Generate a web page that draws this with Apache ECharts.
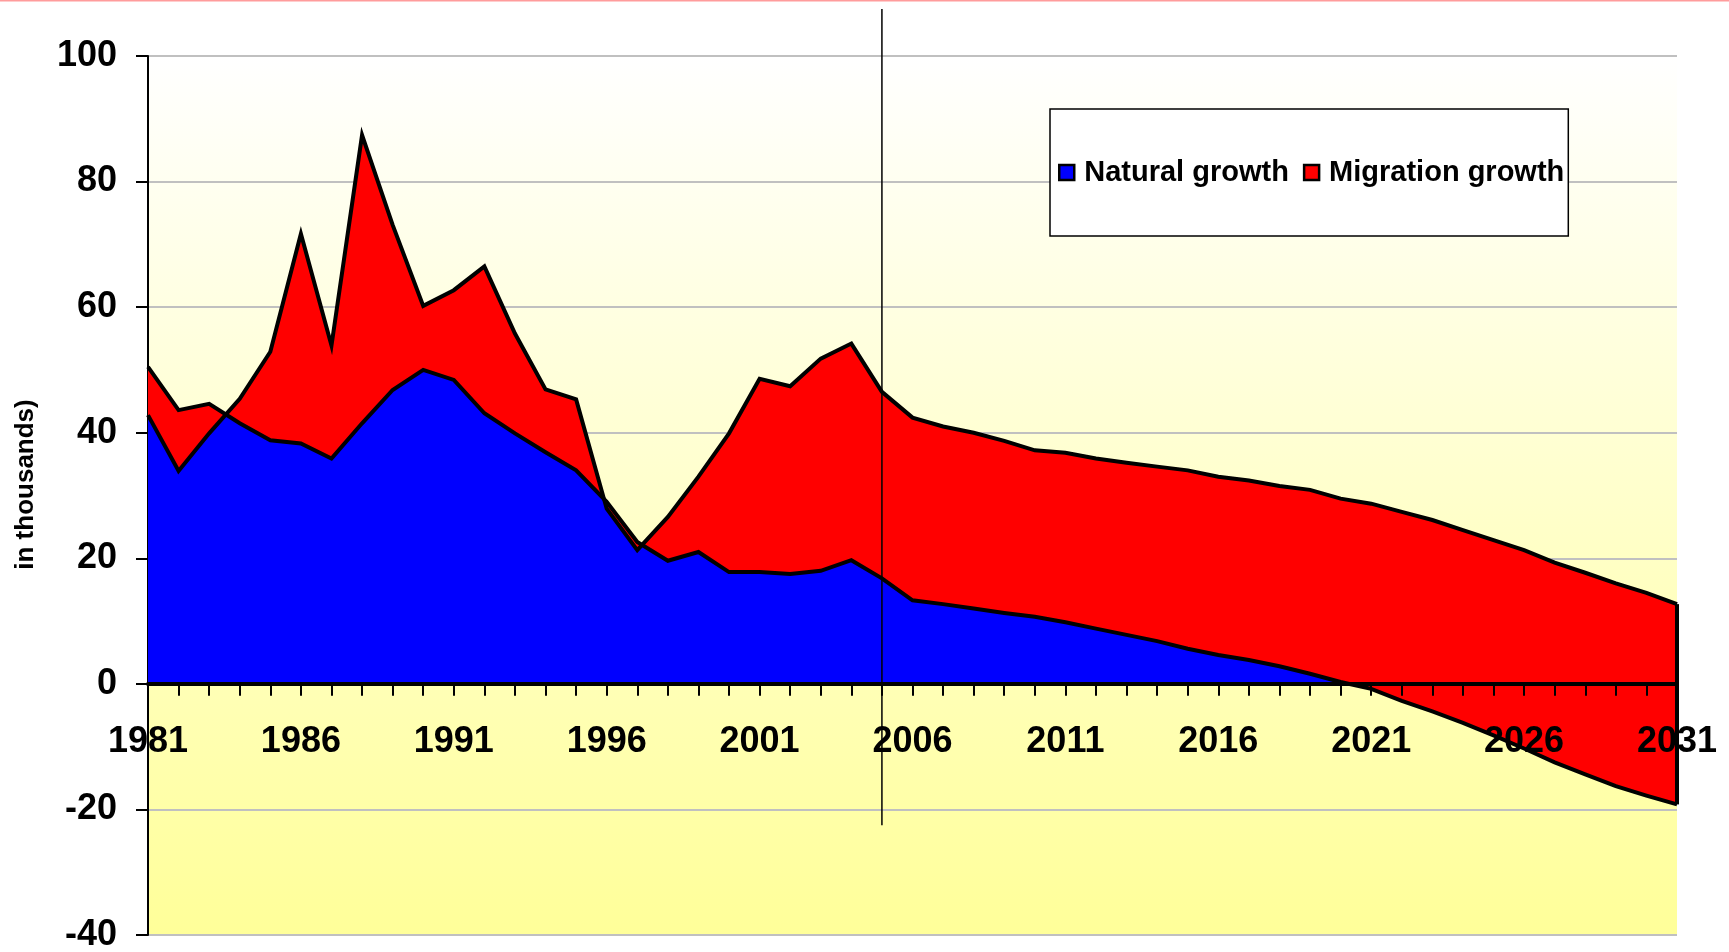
<!DOCTYPE html>
<html><head><meta charset="utf-8">
<script src="https://cdn.jsdelivr.net/npm/echarts@6/dist/echarts.min.js"></script>
<style>html,body{margin:0;padding:0;background:#fff}#c{width:1729px;height:952px}</style>
</head><body><div id="c"></div>
<script>
const years = ['1981','1982','1983','1984','1985','1986','1987','1988','1989','1990',
  '1991','1992','1993','1994','1995','1996','1997','1998','1999','2000',
  '2001','2002','2003','2004','2005','2006','2007','2008','2009','2010',
  '2011','2012','2013','2014','2015','2016','2017','2018','2019','2020',
  '2021','2022','2023','2024','2025','2026','2027','2028','2029','2030','2031'];
const natural = [50.5,43.6,44.6,41.5,38.8,38.3,35.9,41.5,46.8,50.0,
  48.4,43.1,39.9,36.9,34.0,29.0,22.6,19.6,21.0,17.8,
  17.8,17.5,18.0,19.7,16.8,13.3,12.7,12.0,11.3,10.7,
  9.8,8.8,7.8,6.8,5.6,4.6,3.8,2.8,1.6,0.3,
  -0.8,-2.7,-4.4,-6.2,-8.2,-10.3,-12.5,-14.4,-16.3,-17.8,-19.2];
const migration = [-7.7,-9.7,-4.7,3.9,14.1,33.4,18.0,45.9,26.3,10.2,
  14.3,23.4,15.9,10.0,11.3,-1.1,-1.3,7.0,12.0,22.1,
  30.8,29.9,33.8,34.5,29.7,29.1,28.3,28.0,27.4,26.5,
  27.0,27.1,27.4,27.8,28.4,28.4,28.6,28.7,29.3,29.2,
  29.5,30.1,30.5,30.7,31.1,31.6,31.8,32.1,32.3,32.3,31.9];
const seriesNames = ['Natural growth','Migration growth'];
const yTitle = 'in thousands)';
const refYear = '2005';
const refSpan = [107.5, -22.5];

const chart = echarts.init(document.getElementById('c'), null, {renderer:'canvas'});
const last = years.length - 1;
const font = 'Liberation Sans, Arial, sans-serif';
const LW = 4;
chart.setOption({
  animation: false,
  backgroundColor: '#ffffff',
  grid: {left:148, right:52, top:56, bottom:17, show:true, borderWidth:0, containLabel:false, outerBoundsMode:'none',
    backgroundColor: new echarts.graphic.LinearGradient(0,0,0,1,[{offset:0,color:'#FFFFFF'},{offset:1,color:'#FFFF99'}])},
  legend: {
    data: seriesNames, left:1050, top:109, orient:'horizontal',
    padding:[49,4,49,8], itemGap:14, itemWidth:15, itemHeight:15, icon:'rect',
    backgroundColor:'#ffffff', borderColor:'#000', borderWidth:1.5, borderRadius:0,
    itemStyle:{borderColor:'#000', borderWidth:2.5},
    textStyle:{fontFamily:font, fontWeight:'bold', fontSize:29, color:'#000', padding:[0,0,0,5]}
  },
  xAxis: {
    type:'category', data: years, boundaryGap:false, z:10, position:'bottom', offset:0,
    axisLine:{onZero:false, lineStyle:{color:'#000', width:4}},
    axisTick:{show:true, interval:0, length:12, lineStyle:{color:'#000', width:2}},
    axisLabel:{interval:4, margin:40, fontFamily:font, fontWeight:'bold', fontSize:36, color:'#000'},
    splitLine:{show:false}
  },
  yAxis: {
    type:'value', min:-40, max:100, interval:20,
    name: yTitle, nameLocation:'middle', nameRotate:90, nameGap:109,
    nameTextStyle:{fontFamily:font, fontWeight:'bold', fontSize:26, color:'#000', padding:[0,0,0,22]},
    axisLine:{show:true, lineStyle:{color:'#000', width:2}},
    axisTick:{show:true, length:12, lineStyle:{color:'#000', width:2}},
    axisLabel:{margin:31, fontFamily:font, fontWeight:'bold', fontSize:36, color:'#000'},
    splitLine:{show:true, lineStyle:{color:'#C0C0C0', width:2}}
  },
  series: [
    {name:seriesNames[0], type:'line', stack:'g', stackStrategy:'all', data:natural, symbol:'none',
     lineStyle:{width:0}, itemStyle:{color:'#0000FF'}, areaStyle:{color:'#0000FF', opacity:1}, z:2},
    {name:seriesNames[1], type:'line', stack:'g', stackStrategy:'all', data:migration, symbol:'none',
     lineStyle:{color:'#000', width:LW, join:'miter'}, itemStyle:{color:'#FF0000'}, areaStyle:{color:'#FF0000', opacity:1}, z:3},
    {name:'outline', type:'line', data:natural, symbol:'none', silent:true,
     lineStyle:{color:'#000', width:LW, join:'miter'}, z:4,
     markLine:{symbol:'none', silent:true, label:{show:false}, lineStyle:{color:'#000', width:LW, type:'solid'},
       data:[[{coord:[years[last], natural[last]]},{coord:[years[last], natural[last]+migration[last]]}]]}}
  ]
});
// move the category axis (line, ticks, labels) to the zero value
const zeroPt = chart.convertToPixel({gridIndex:0}, [years[0], 0]);
const minPt = chart.convertToPixel({gridIndex:0}, [years[0], -40]);
chart.setOption({xAxis:{offset: zeroPt[1] - minPt[1]}});
const p1 = chart.convertToPixel({gridIndex:0}, [refYear, refSpan[0]]);
const p2 = chart.convertToPixel({gridIndex:0}, [refYear, refSpan[1]]);
chart.setOption({graphic:[
  {type:'line', shape:{x1:p1[0], y1:p1[1], x2:p2[0], y2:p2[1]}, style:{stroke:'#000', lineWidth:1.5}, z:100},
  {type:'rect', shape:{x:0, y:0, width:1729, height:1.5}, style:{fill:'#FF9C9C'}, z:100}
]});
</script></body></html>
